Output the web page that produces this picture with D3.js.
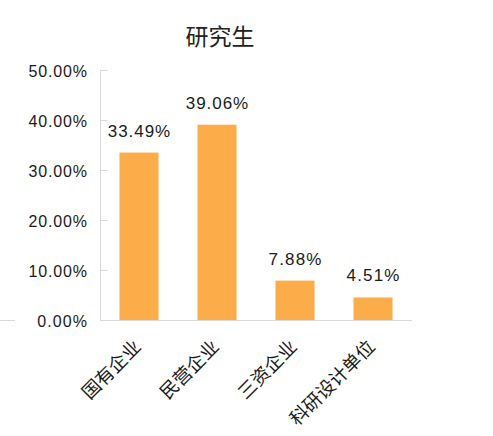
<!DOCTYPE html>
<html><head><meta charset="utf-8">
<script src="https://cdn.jsdelivr.net/npm/d3@7/dist/d3.min.js"></script>
<style>html,body{margin:0;padding:0;background:#fff;}svg{display:block;}</style>
</head><body>
<svg id="c" width="493" height="436"></svg>
<script>
const title = "研究生";
const categories = ["国有企业", "民营企业", "三资企业", "科研设计单位"];
const values = [33.49, 39.06, 7.88, 4.51];
const yTicks = [0, 10, 20, 30, 40, 50];

const svg = d3.select("#c");
const W = 493, H = 436;
const m = {left: 100, right: 81, top: 70, bottom: 116};
const x = d3.scaleBand().domain(categories).range([m.left, W - m.right]).paddingInner(0.5).paddingOuter(0.25);
const y = d3.scaleLinear().domain([0, 50]).range([H - m.bottom, m.top]);
const axisColor = "#d9d9d9";
const fmt = v => v.toFixed(2) + "%";

function widen(sel, fs) {
  sel.each(function() {
    const n = this.getComputedTextLength();
    d3.select(this).attr("textLength", n + fs * 0.27).attr("lengthAdjust", "spacing");
  });
}

// title
svg.append("text").attr("x", 220).attr("y", 45).attr("text-anchor", "middle")
  .attr("font-family", "'Noto Sans CJK SC', sans-serif").attr("font-size", 23).attr("fill", "#222")
  .text(title);

// stray axis fragment at far left
svg.append("line").attr("x1", 0).attr("x2", 15).attr("y1", y(0) + 0.5).attr("y2", y(0) + 0.5)
  .attr("stroke", axisColor).attr("stroke-width", 1);

// y axis
const yAxis = svg.append("g").attr("transform", `translate(${m.left + 0.5},0)`)
  .call(d3.axisRight(y).tickValues(yTicks).tickSize(7).tickFormat(""));
yAxis.select(".domain").attr("stroke", axisColor).attr("d", `M7,${y(50)+0.5}H0V${y(0)+0.5}`);
yAxis.selectAll(".tick line").attr("stroke", axisColor);

const yl = svg.append("g").selectAll("text").data(yTicks).join("text")
  .attr("x", 87).attr("y", d => y(d) + 6.5).attr("text-anchor", "end")
  .attr("font-family", "'Liberation Sans', Arial, sans-serif").attr("font-size", 16).attr("fill", "#1a1a1a")
  .text(d => fmt(d));
widen(yl, 16);

// x axis
const xAxis = svg.append("g").attr("transform", `translate(0,${y(0) + 0.5})`)
  .call(d3.axisBottom(x).tickSize(0).tickFormat(""));
xAxis.select(".domain").attr("stroke", axisColor).attr("d", `M${m.left},0H${W - m.right}`);

// bars
svg.append("g").selectAll("rect").data(values).join("rect")
  .attr("x", (d, i) => x(categories[i])).attr("width", x.bandwidth())
  .attr("y", d => y(d)).attr("height", d => y(0) - y(d))
  .attr("fill", "#fcac48");

// value labels
const vl = svg.append("g").selectAll("text").data(values).join("text")
  .attr("x", (d, i) => x(categories[i]) + x.bandwidth() / 2).attr("y", d => y(d) - 16)
  .attr("text-anchor", "middle")
  .attr("font-family", "'Liberation Sans', Arial, sans-serif").attr("font-size", 17).attr("fill", "#1a1a1a")
  .text(d => fmt(d));
widen(vl, 17);

// category labels
svg.append("g").selectAll("text").data(categories).join("text")
  .attr("transform", d => `translate(${x(d) + x.bandwidth() / 2 + 3},${y(0) + 28}) rotate(-45)`)
  .attr("text-anchor", "end")
  .attr("font-family", "'Noto Sans CJK SC', sans-serif").attr("font-size", 18.5).attr("fill", "#1a1a1a")
  .text(d => d);
</script>
</body></html>
